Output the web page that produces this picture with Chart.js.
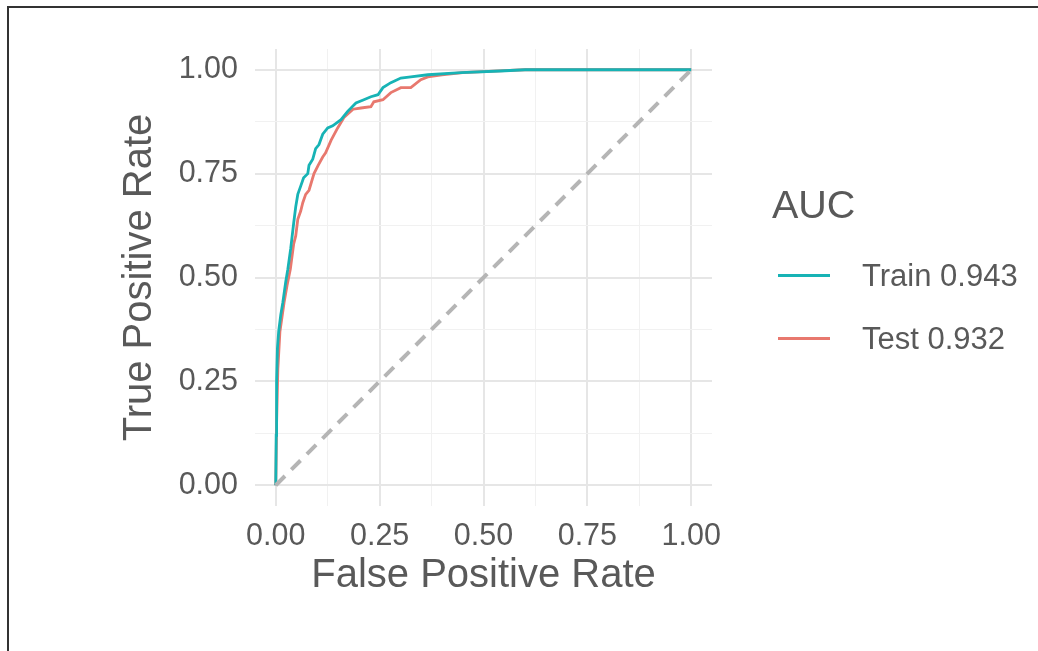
<!DOCTYPE html>
<html>
<head>
<meta charset="utf-8">
<script src="https://cdn.jsdelivr.net/npm/chart.js@4.4.0/dist/chart.umd.min.js"></script>
<style>
  html, body { margin: 0; padding: 0; background: #fff; }
  body { width: 1038px; height: 651px; position: relative; overflow: hidden; font-family: "Liberation Sans", Arial, sans-serif; }
  #wrap { position: absolute; left: 0; top: 0; width: 1038px; height: 651px; }
  #frame { position: absolute; left: 7px; top: 6px; width: 1100px; height: 700px; border-top: 2px solid #333; border-left: 2px solid #333; pointer-events: none; }
  #legend { position: absolute; left: 772px; top: 180px; color: #595959; }
  #legend .title { font-size: 39.5px; line-height: 48px; margin-bottom: 16px; }
  #legend .item { display: flex; align-items: center; height: 63px; }
  #legend .key { width: 52px; height: 3px; margin-left: 6px; margin-right: 32px; }
  #legend .lbl { font-size: 31px; }
</style>
</head>
<body>
<div id="wrap"><canvas id="roc" width="1038" height="651"></canvas></div>
<div id="frame"></div>
<div id="legend"></div>
<script>
/* ----- dados ----- */
const seriesNames = ['Train 0.943', 'Test 0.932'];
const legendTitle = 'AUC';
const axisTicks = [0, 0.25, 0.5, 0.75, 1];
const minorTicks = [0.125, 0.375, 0.625, 0.875];

const trainFpr = [0, 0.001, 0.002, 0.004, 0.007, 0.012, 0.017, 0.024, 0.029, 0.036, 0.043, 0.048, 0.053, 0.060, 0.067, 0.077, 0.080, 0.089, 0.096, 0.104, 0.113, 0.125, 0.137, 0.157, 0.173, 0.193, 0.212, 0.229, 0.246, 0.258, 0.277, 0.301, 0.325, 0.366, 0.446, 0.540, 0.600, 1];
const trainTpr = [0, 0.12, 0.25, 0.33, 0.37, 0.41, 0.44, 0.49, 0.52, 0.57, 0.63, 0.67, 0.70, 0.72, 0.74, 0.75, 0.77, 0.785, 0.81, 0.82, 0.845, 0.86, 0.865, 0.88, 0.90, 0.92, 0.928, 0.935, 0.94, 0.957, 0.969, 0.98, 0.983, 0.988, 0.993, 0.997, 1, 1];

const testFpr = [0, 0.002, 0.005, 0.010, 0.020, 0.027, 0.035, 0.043, 0.048, 0.053, 0.060, 0.065, 0.072, 0.080, 0.092, 0.102, 0.113, 0.120, 0.133, 0.149, 0.164, 0.186, 0.205, 0.229, 0.236, 0.258, 0.277, 0.301, 0.325, 0.349, 0.366, 0.400, 0.450, 0.550, 0.600, 1];
const testTpr = [0, 0.15, 0.28, 0.37, 0.44, 0.48, 0.52, 0.58, 0.60, 0.64, 0.66, 0.68, 0.70, 0.71, 0.75, 0.77, 0.79, 0.80, 0.83, 0.86, 0.885, 0.905, 0.908, 0.911, 0.923, 0.928, 0.945, 0.957, 0.957, 0.976, 0.983, 0.988, 0.993, 0.998, 1, 1];

const diagX = [0, 1];
const diagY = [0, 1];

/* ----- estilo ----- */
const corTrain = '#17b3b5';
const corTest = '#e8786e';
const corTexto = '#595959';
const fonte = '"Liberation Sans", Arial, sans-serif';

function pares(xs, ys) {
  return xs.map((x, i) => ({ x, y: ys[i] }));
}

const todosTicks = axisTicks.concat(minorTicks).sort((a, b) => a - b);

function eixo(titulo, largura) {
  return {
    type: 'linear',
    min: -0.05,
    max: 1.05,
    afterBuildTicks: s => { s.ticks = todosTicks.map(v => ({ value: v })); },
    afterFit: largura,
    border: { display: false },
    grid: {
      drawTicks: false,
      color: c => axisTicks.includes(c.tick.value) ? '#e6e6e6' : '#f1f1f1',
      lineWidth: c => axisTicks.includes(c.tick.value) ? 2 : 1
    },
    ticks: {
      autoSkip: false,
      maxRotation: 0,
      color: corTexto,
      font: { family: fonte, size: 30.5 },
      callback: v => axisTicks.includes(v) ? v.toFixed(2) : ''
    },
    title: {
      display: true,
      text: titulo,
      color: corTexto,
      font: { family: fonte, size: 40 },
      padding: { top: 4, bottom: 4 }
    }
  };
}

const xAxis = eixo('False Positive Rate', s => { s.height = 98; });
xAxis.ticks.padding = 12;
const yAxis = eixo('True Positive Rate', s => { s.width = 143; });
yAxis.ticks.padding = 17;

const ctx = document.getElementById('roc').getContext('2d');
const grafico = new Chart(ctx, {
  type: 'line',
  data: {
    datasets: [
      {
        label: 'diag',
        data: pares(diagX, diagY),
        borderColor: '#b5b5b5',
        borderWidth: 4,
        borderDash: [13, 9],
        order: 0
      },
      {
        label: seriesNames[0],
        data: pares(trainFpr, trainTpr),
        borderColor: corTrain,
        borderWidth: 2.8,
        order: 1
      },
      {
        label: seriesNames[1],
        data: pares(testFpr, testTpr),
        borderColor: corTest,
        borderWidth: 2.8,
        order: 2
      }
    ]
  },
  options: {
    responsive: false,
    animation: false,
    layout: { padding: { left: 112, right: 326, top: 49, bottom: 47 } },
    elements: { point: { radius: 0 }, line: { tension: 0, fill: false } },
    plugins: { legend: { display: false }, tooltip: { enabled: false } },
    scales: { x: xAxis, y: yAxis }
  }
});

/* ----- legenda em html ----- */
const leg = document.getElementById('legend');
leg.innerHTML = `<div class="title">${legendTitle}</div>` +
  [[seriesNames[0], corTrain], [seriesNames[1], corTest]].map(([nome, cor]) =>
    `<div class="item"><span class="key" style="background:${cor}"></span><span class="lbl">${nome}</span></div>`
  ).join('');
</script>
</body>
</html>
